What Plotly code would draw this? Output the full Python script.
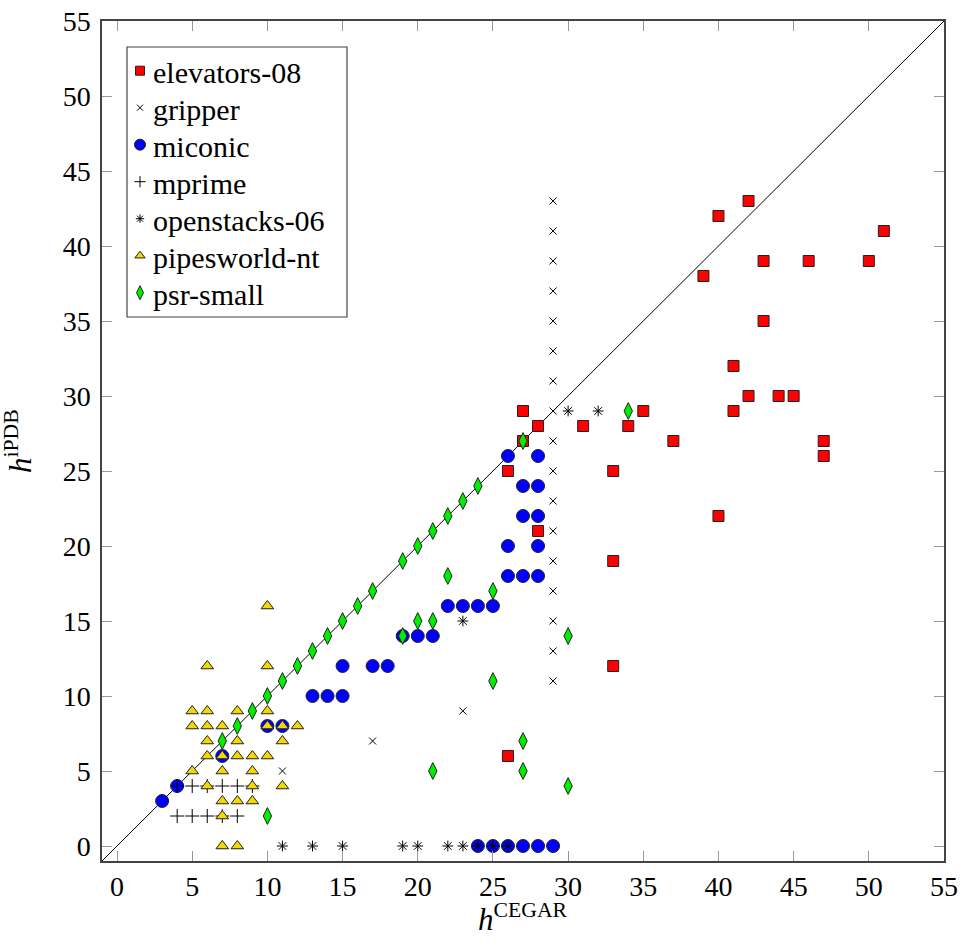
import plotly.graph_objects as go

# ---- data ----
elevators_x = [26, 26, 27, 27, 28, 28, 31, 33, 33, 33, 34, 35, 37, 39, 40, 40, 41, 41, 42, 42, 43, 43, 44, 45, 46, 47, 47, 50, 51]
elevators_y = [6, 25, 29, 27, 28, 21, 28, 25, 19, 12, 28, 29, 27, 38, 42, 22, 32, 29, 43, 30, 39, 35, 30, 30, 39, 27, 26, 39, 41]

gripper_x = [11, 17, 23, 29, 29, 29, 29, 29, 29, 29, 29, 29, 29, 29, 29, 29, 29, 29, 29, 29]
gripper_y = [5, 7, 9, 11, 13, 15, 17, 19, 21, 23, 25, 27, 29, 31, 33, 35, 37, 39, 41, 43]

miconic_x = [3, 4, 7, 10, 11, 13, 14, 15, 15, 17, 18, 19, 20, 21, 22, 23, 24, 25, 26, 26, 26, 27, 27, 27,
             28, 28, 28, 28, 28, 24, 25, 26, 27, 28, 29]
miconic_y = [3, 4, 6, 8, 8, 10, 10, 10, 12, 12, 12, 14, 14, 14, 16, 16, 16, 16, 18, 20, 26, 18, 22, 24,
             18, 20, 22, 24, 26, 0, 0, 0, 0, 0, 0]

mprime_x = [4, 5, 6, 7, 8, 4, 5, 6, 7, 8, 9]
mprime_y = [2, 2, 2, 2, 2, 4, 4, 4, 4, 4, 4]

openstacks_x = [11, 13, 15, 19, 20, 22, 23, 24, 25, 26, 23, 30, 32]
openstacks_y = [0, 0, 0, 0, 0, 0, 0, 0, 0, 0, 15, 29, 29]

pipesworld_x = [5, 5, 5, 6, 6, 6, 6, 6, 6, 7, 7, 7, 7, 7, 7, 8, 8, 8, 8, 8, 9, 9, 9, 9,
                10, 10, 10, 10, 10, 11, 11, 11, 12]
pipesworld_y = [5, 8, 9, 4, 6, 7, 8, 9, 12, 0, 2, 3, 5, 6, 8, 0, 3, 6, 7, 9, 3, 4, 5, 6,
                6, 8, 9, 12, 16, 4, 7, 8, 8]

psr_x = [7, 8, 9, 10, 11, 12, 13, 14, 15, 16, 17, 19, 20, 21, 22, 23, 24, 27,
         10, 19, 20, 21, 22, 25, 25, 21, 27, 27, 30, 30, 34]
psr_y = [7, 8, 9, 10, 11, 12, 13, 14, 15, 16, 17, 19, 20, 21, 22, 23, 24, 27,
         2, 14, 15, 15, 18, 17, 11, 5, 7, 5, 4, 14, 29]

series_names = ["elevators-08", "gripper", "miconic", "mprime", "openstacks-06", "pipesworld-nt", "psr-small"]

diag = [-1, 55]
ticks = [0, 5, 10, 15, 20, 25, 30, 35, 40, 45, 50, 55]
axis_range = [-1, 55]

FONT = "Liberation Serif"

# layout geometry (pixels)
W, H = 963, 946
ML, MR, MT, MB = 102, 19, 21, 85
PW, PH = W - ML - MR, H - MT - MB


def px_x(p):
    return (p - ML) / PW


def px_y(p):
    return 1 - (p - MT) / PH


styles = [
    dict(symbol="square", size=11, color="#ff0000", line=dict(color="#222", width=1)),
    dict(symbol="x-thin-open", size=7, color="black", line=dict(color="black", width=1)),
    dict(symbol="circle", size=13, color="#0000ff", line=dict(color="#222", width=1)),
    dict(symbol="cross-thin-open", size=10, color="black", line=dict(color="black", width=1)),
    dict(symbol="asterisk-open", size=9, color="black", line=dict(color="black", width=1)),
    dict(symbol="triangle-up", size=11, color="#f5d800", line=dict(color="#222", width=1)),
    dict(symbol="diamond-tall", size=12, color="#00ee00", line=dict(color="#222", width=1)),
]
data = [(elevators_x, elevators_y), (gripper_x, gripper_y), (miconic_x, miconic_y),
        (mprime_x, mprime_y), (openstacks_x, openstacks_y), (pipesworld_x, pipesworld_y),
        (psr_x, psr_y)]

fig = go.Figure()
fig.add_trace(go.Scatter(x=diag, y=diag, mode="lines", line=dict(color="black", width=1),
                         showlegend=False, hoverinfo="skip"))
for name, (xs, ys), mk in zip(series_names, data, styles):
    fig.add_trace(go.Scatter(x=xs, y=ys, mode="markers", name=name, marker=mk, showlegend=False))

# ---- legend (drawn by hand so that it can use the serif font) ----
LEG_L, LEG_R, LEG_T, LEG_B = 127, 347, 47, 317
ROW0, ROW_STEP = 70.7, 37.0
KEY_X, TEXT_X = 140, 151
annotations = []
for i, (name, mk) in enumerate(zip(series_names, styles)):
    ry = ROW0 + i * ROW_STEP
    key = dict(mk)
    key["size"] = round(mk["size"] * 0.82)
    fig.add_trace(go.Scatter(x=[px_x(KEY_X)], y=[px_y(ry)], xaxis="x2", yaxis="y2",
                             mode="markers", marker=key, showlegend=False, hoverinfo="skip"))
    annotations.append(dict(text=name, xref="paper", yref="paper", x=px_x(TEXT_X), y=px_y(ry + 1.5),
                            xanchor="left", yanchor="middle", showarrow=False,
                            font=dict(family=FONT, size=30, color="black")))

annotations.append(dict(text="<i>h</i><sup>iPDB</sup>", xref="paper", yref="paper",
                        x=px_x(18), y=0.5, xanchor="center", yanchor="middle", textangle=-90,
                        showarrow=False, font=dict(family=FONT, size=31, color="black")))
annotations.append(dict(text="<i>h</i><sup>CEGAR</sup>", xref="paper", yref="paper",
                        x=0.5, y=px_y(917), xanchor="center", yanchor="middle",
                        showarrow=False, font=dict(family=FONT, size=31, color="black")))

axis_common = dict(
    range=axis_range, tickmode="array", tickvals=ticks, ticktext=[str(t) for t in ticks],
    ticks="inside", ticklen=10, tickcolor="#999999", tickwidth=1,
    showline=True, linecolor="#444444", linewidth=1.5, mirror="ticks",
    showgrid=False, zeroline=False, automargin=False,
    tickfont=dict(family=FONT, size=28, color="black"),
)

fig.update_layout(
    width=W, height=H,
    margin=dict(l=ML, r=MR, t=MT, b=MB),
    paper_bgcolor="white", plot_bgcolor="white",
    font=dict(family=FONT, color="black", size=28),
    xaxis=dict(**axis_common),
    yaxis=dict(**axis_common, ticklabelstandoff=4),
    xaxis2=dict(overlaying="x", range=[0, 1], visible=False, automargin=False),
    yaxis2=dict(overlaying="y", range=[0, 1], visible=False, automargin=False),
    showlegend=False,
    annotations=annotations,
    shapes=[dict(type="rect", xref="paper", yref="paper",
                 x0=px_x(LEG_L), x1=px_x(LEG_R), y0=px_y(LEG_B), y1=px_y(LEG_T),
                 line=dict(color="#444444", width=1.2), fillcolor="white", layer="below")],
)

fig.write_html("out.html")
